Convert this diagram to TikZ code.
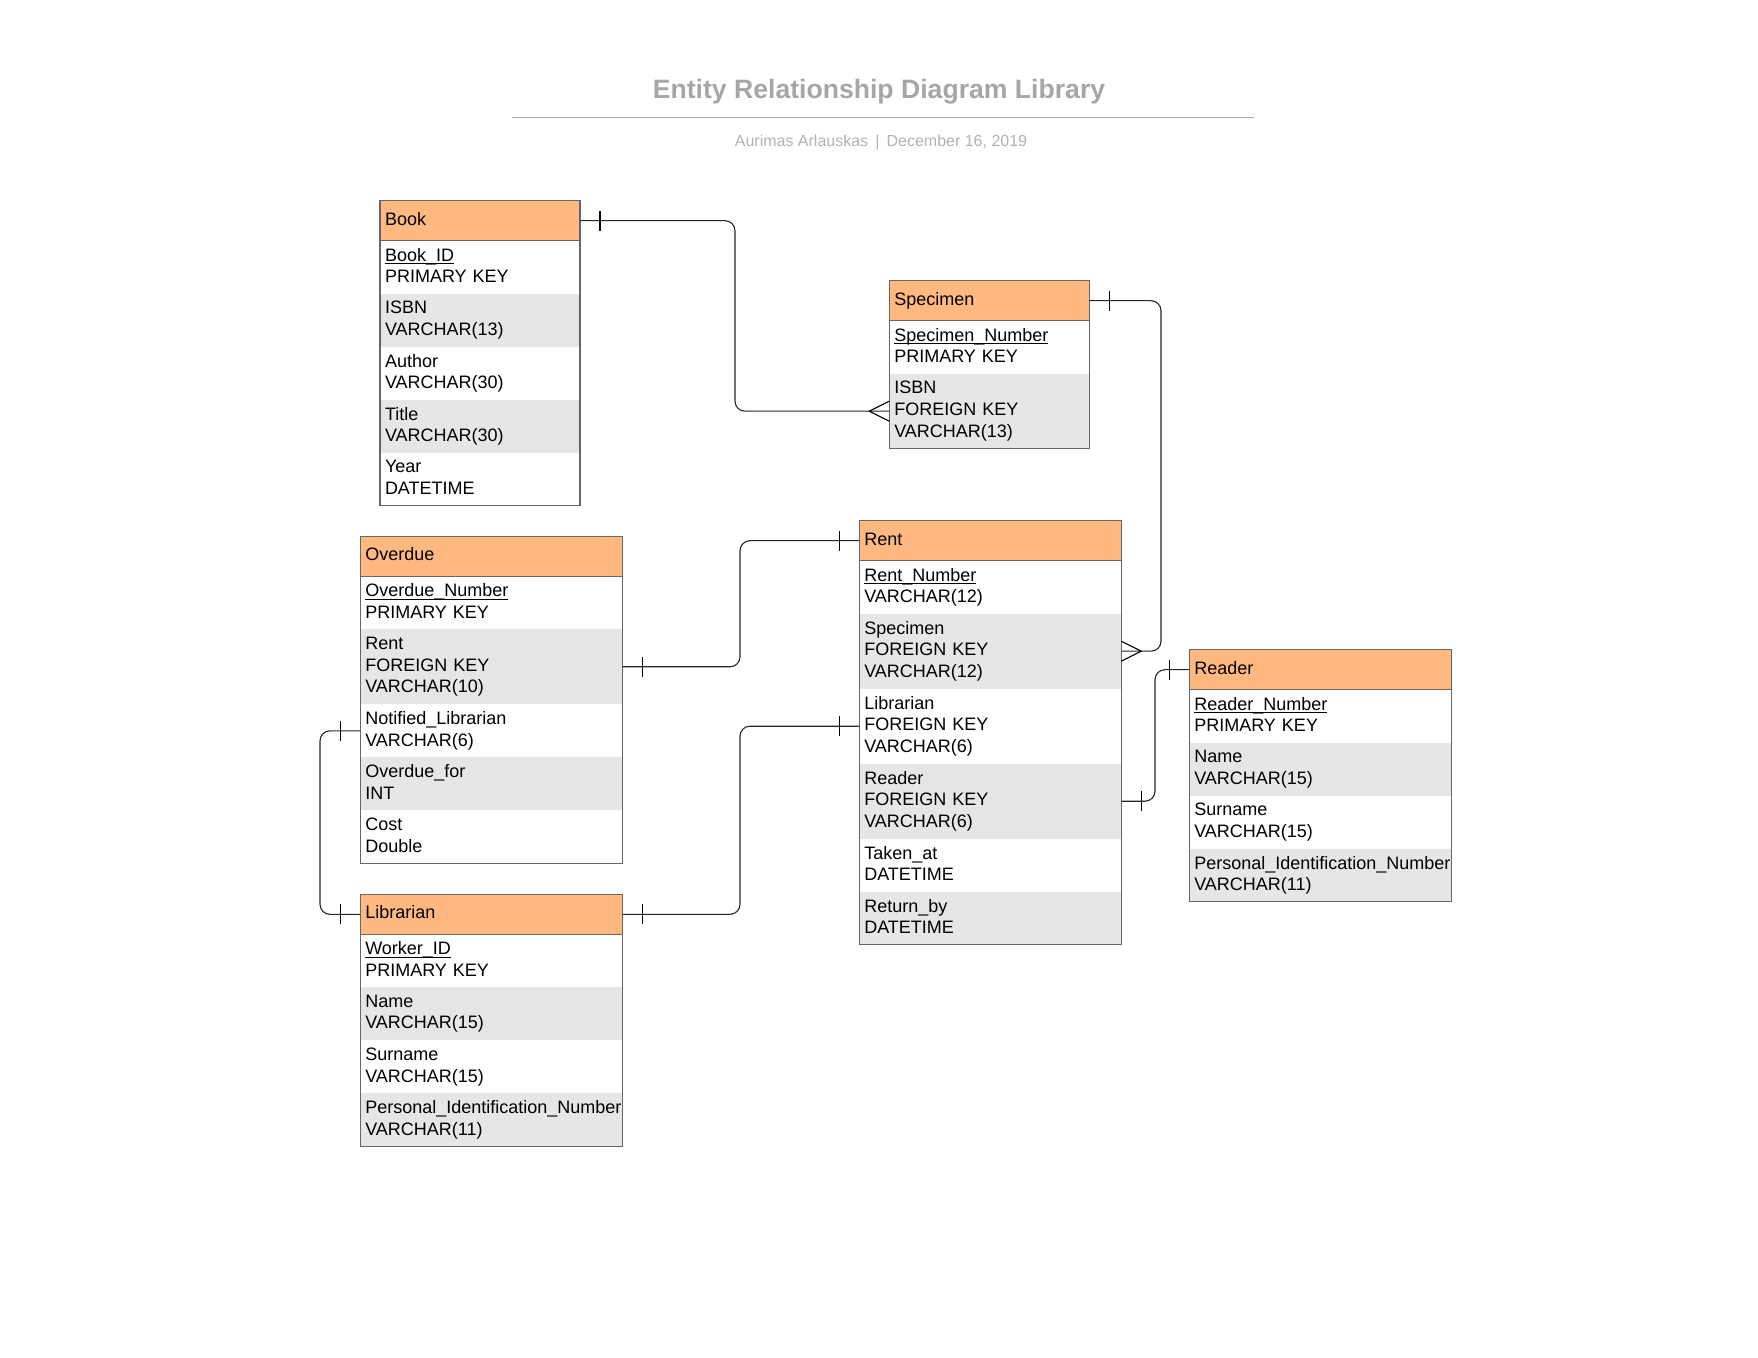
\documentclass[tikz,border=0pt]{standalone}
\usepackage{fontspec}
\setmainfont{Liberation Sans}
\usepackage{xcolor}
\usepackage{tikz}
\usetikzlibrary{positioning,calc}

\definecolor{hdrorange}{RGB}{255,184,128}
\definecolor{rowgray}{RGB}{230,230,230}
\definecolor{boxgray}{RGB}{102,102,102}
\definecolor{titlegray}{RGB}{166,166,166}
\definecolor{subgray}{RGB}{178,178,178}

\newcommand{\fieldfont}{\fontsize{9}{10.85}\selectfont}
\newcommand{\keyname}[1]{\underline{\raisebox{0pt}[\height][0pt]{#1}}}

\tikzset{
  hdr/.style={fill=hdrorange, anchor=north west, minimum height=20pt, inner xsep=2.5pt, inner ysep=0pt, outer sep=0pt, align=left, font=\fieldfont, execute at end node=\vphantom{(}},
  fld/.style={fill=white, minimum height=26.5pt, inner xsep=2.5pt, inner ysep=0pt, outer sep=0pt, align=left, font=\fieldfont, execute at end node=\vphantom{(}},
  fldthree/.style={fld, minimum height=37.5pt},
  shaded/.style={fill=rowgray},
  narrow/.style={text width=95pt},
  wide/.style={text width=126pt},
  frame/.style={draw=boxgray, line width=0.6pt},
  rel/.style={draw=black!85, line width=0.55pt, rounded corners=5pt},
  tick/.style={draw=black, line width=0.55pt},
}

\begin{document}
\begin{tikzpicture}[x=0.5pt,y=-0.5pt]
\useasboundingbox (0,0) rectangle (1758,1358);

% Title block
\node[font=\bfseries\fontsize{13.3}{16}\selectfont, text=titlegray] (title) at (879,91.5) {Entity Relationship Diagram Library};
\draw[titlegray, line width=0.7pt] (512,117.5) -- (1254,117.5);
\node[font=\fontsize{8}{10}\selectfont, text=subgray] (subtitle) at (881,142) {Aurimas Arlauskas \,|\, December 16, 2019};

% Book
\node[hdr, narrow] (book) at (380,200.7) {Book};
\node[fld, narrow, below=0pt of book] (book-1) {\keyname{Book\_ID}\\PRIMARY KEY};
\node[fld, narrow, shaded, below=0pt of book-1] (book-2) {ISBN\\VARCHAR(13)};
\node[fld, narrow, below=0pt of book-2] (book-3) {Author\\VARCHAR(30)};
\node[fld, narrow, shaded, below=0pt of book-3] (book-4) {Title\\VARCHAR(30)};
\node[fld, narrow, below=0pt of book-4] (book-5) {Year\\DATETIME};
\draw[frame] (book.north west) rectangle (book-5.south east) (book.south west) -- (book.south east);

% Specimen
\node[hdr, narrow] (specimen) at (889.3,280.7) {Specimen};
\node[fld, narrow, below=0pt of specimen] (specimen-1) {\keyname{Specimen\_Number}\\PRIMARY KEY};
\node[fldthree, narrow, shaded, below=0pt of specimen-1] (specimen-2) {ISBN\\FOREIGN KEY\\VARCHAR(13)};
\draw[frame] (specimen.north west) rectangle (specimen-2.south east) (specimen.south west) -- (specimen.south east);

% Overdue
\node[hdr, wide] (overdue) at (360.3,536.3) {Overdue};
\node[fld, wide, below=0pt of overdue] (overdue-1) {\keyname{Overdue\_Number}\\PRIMARY KEY};
\node[fldthree, wide, shaded, below=0pt of overdue-1] (overdue-2) {Rent\\FOREIGN KEY\\VARCHAR(10)};
\node[fld, wide, below=0pt of overdue-2] (overdue-3) {Notified\_Librarian\\VARCHAR(6)};
\node[fld, wide, shaded, below=0pt of overdue-3] (overdue-4) {Overdue\_for\\INT};
\node[fld, wide, below=0pt of overdue-4] (overdue-5) {Cost\\Double};
\draw[frame] (overdue.north west) rectangle (overdue-5.south east) (overdue.south west) -- (overdue.south east);

% Rent
\node[hdr, wide] (rent) at (859.3,520.7) {Rent};
\node[fld, wide, below=0pt of rent] (rent-1) {\keyname{Rent\_Number}\\VARCHAR(12)};
\node[fldthree, wide, shaded, below=0pt of rent-1] (rent-2) {Specimen\\FOREIGN KEY\\VARCHAR(12)};
\node[fldthree, wide, below=0pt of rent-2] (rent-3) {Librarian\\FOREIGN KEY\\VARCHAR(6)};
\node[fldthree, wide, shaded, below=0pt of rent-3] (rent-4) {Reader\\FOREIGN KEY\\VARCHAR(6)};
\node[fld, wide, below=0pt of rent-4] (rent-5) {Taken\_at\\DATETIME};
\node[fld, wide, shaded, below=0pt of rent-5] (rent-6) {Return\_by\\DATETIME};
\draw[frame] (rent.north west) rectangle (rent-6.south east) (rent.south west) -- (rent.south east);

% Reader
\node[hdr, wide] (reader) at (1189.3,649.7) {Reader};
\node[fld, wide, below=0pt of reader] (reader-1) {\keyname{Reader\_Number}\\PRIMARY KEY};
\node[fld, wide, shaded, below=0pt of reader-1] (reader-2) {Name\\VARCHAR(15)};
\node[fld, wide, below=0pt of reader-2] (reader-3) {Surname\\VARCHAR(15)};
\node[fld, wide, shaded, below=0pt of reader-3] (reader-4) {Personal\_Identification\_Number\\VARCHAR(11)};
\draw[frame] (reader.north west) rectangle (reader-4.south east) (reader.south west) -- (reader.south east);

% Librarian
\node[hdr, wide] (librarian) at (360.3,894.3) {Librarian};
\node[fld, wide, below=0pt of librarian] (librarian-1) {\keyname{Worker\_ID}\\PRIMARY KEY};
\node[fld, wide, shaded, below=0pt of librarian-1] (librarian-2) {Name\\VARCHAR(15)};
\node[fld, wide, below=0pt of librarian-2] (librarian-3) {Surname\\VARCHAR(15)};
\node[fld, wide, shaded, below=0pt of librarian-3] (librarian-4) {Personal\_Identification\_Number\\VARCHAR(11)};
\draw[frame] (librarian.north west) rectangle (librarian-4.south east) (librarian.south west) -- (librarian.south east);

% Bus lines for the connectors
\coordinate (busbook) at (735,0);
\coordinate (busspec) at (1161,0);
\coordinate (busrent) at (740,0);
\coordinate (buslib) at (320,0);
\coordinate (busread) at (1155,0);

% Relations
\draw[rel] (book.east) -- (book.east -| busbook) |- (specimen-2.west);
\draw[rel] (specimen.east) -- (specimen.east -| busspec) |- (rent-2.east);
\draw[rel] (overdue-2.east) -- (overdue-2.east -| busrent) |- (rent.west);
\draw[rel] (librarian.east) -- (librarian.east -| busrent) |- (rent-3.west);
\draw[rel] (librarian.west) -- (librarian.west -| buslib) |- (overdue-3.west);
\draw[rel] (rent-4.east) -- (rent-4.east -| busread) |- (reader.west);

% One marks
\draw[tick] ([xshift=10pt,yshift=5pt]book.east) -- ([xshift=10pt,yshift=-5pt]book.east);
\draw[tick] ([xshift=10pt,yshift=5pt]specimen.east) -- ([xshift=10pt,yshift=-5pt]specimen.east);
\draw[tick] ([xshift=10pt,yshift=5pt]overdue-2.east) -- ([xshift=10pt,yshift=-5pt]overdue-2.east);
\draw[tick] ([xshift=-10pt,yshift=5pt]rent.west) -- ([xshift=-10pt,yshift=-5pt]rent.west);
\draw[tick] ([xshift=10pt,yshift=5pt]librarian.east) -- ([xshift=10pt,yshift=-5pt]librarian.east);
\draw[tick] ([xshift=-10pt,yshift=5pt]rent-3.west) -- ([xshift=-10pt,yshift=-5pt]rent-3.west);
\draw[tick] ([xshift=-10pt,yshift=5pt]librarian.west) -- ([xshift=-10pt,yshift=-5pt]librarian.west);
\draw[tick] ([xshift=-10pt,yshift=5pt]overdue-3.west) -- ([xshift=-10pt,yshift=-5pt]overdue-3.west);
\draw[tick] ([xshift=10pt,yshift=5pt]rent-4.east) -- ([xshift=10pt,yshift=-5pt]rent-4.east);
\draw[tick] ([xshift=-10pt,yshift=5pt]reader.west) -- ([xshift=-10pt,yshift=-5pt]reader.west);

% Many marks (crow's feet)
\draw[tick] ([yshift=5pt]specimen-2.west) -- ([xshift=-10pt]specimen-2.west) -- ([yshift=-5pt]specimen-2.west);
\draw[tick] ([yshift=5pt]rent-2.east) -- ([xshift=10pt]rent-2.east) -- ([yshift=-5pt]rent-2.east);
\end{tikzpicture}
\end{document}
